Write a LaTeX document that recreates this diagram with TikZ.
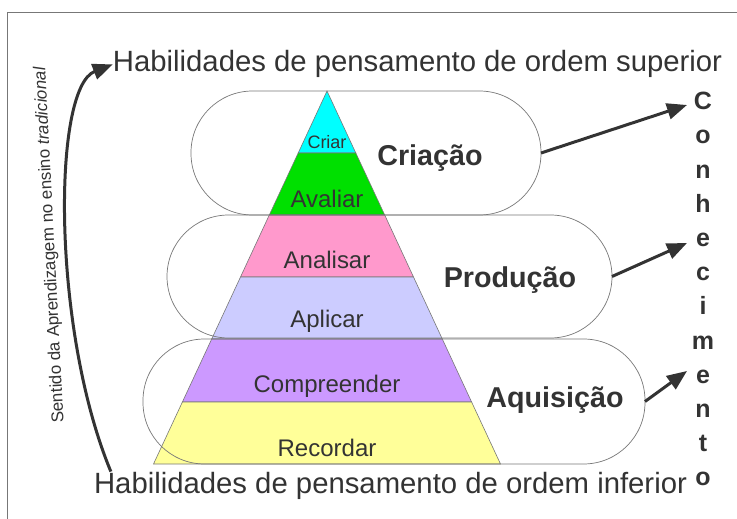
\documentclass[tikz,border=0pt]{standalone}
\usepackage{fontspec}
\setmainfont{Liberation Sans}
\usetikzlibrary{arrows.meta}

\definecolor{txtgray}{HTML}{333333}
\definecolor{linegray}{HTML}{777777}
\definecolor{cCriar}{HTML}{00FFFF}
\definecolor{cAvaliar}{HTML}{00E000}
\definecolor{cAnalisar}{HTML}{FF99CC}
\definecolor{cAplicar}{HTML}{CCCCFF}
\definecolor{cCompreender}{HTML}{CC99FF}
\definecolor{cRecordar}{HTML}{FFFF99}

\begin{document}
\begin{tikzpicture}[x=1pt, y=-1pt,
    camada/.style={draw=linegray, line width=0.6pt},
    nivel/.style={anchor=base, text=txtgray, inner sep=0pt, font=\fontsize{24}{28}\selectfont},
    fase/.style={draw=linegray, line width=0.7pt, rounded corners=61.5pt, outer sep=0pt, inner sep=0pt},
    fasetxt/.style={anchor=base, text=txtgray, inner sep=0pt, font=\bfseries\fontsize{28.7}{32}\selectfont},
    titulo/.style={anchor=base, text=txtgray, inner sep=0pt, font=\fontsize{29.3}{34}\selectfont},
    seta/.style={draw=txtgray, line width=3pt, -{Triangle[length=20pt,width=16pt]}}]
        \useasboundingbox (0,0) rectangle (737,519);
        \draw[linegray, line width=1pt] (7,519) -- (7,13) -- (737,13);

        % piramide
        \filldraw[camada, fill=cCriar] (327,91) -- (355.8,153) -- (298.2,153) -- cycle;
        \filldraw[camada, fill=cAvaliar] (298.2,153) -- (355.8,153) -- (384.7,215) -- (269.3,215) -- cycle;
        \filldraw[camada, fill=cAnalisar] (269.3,215) -- (384.7,215) -- (413.5,277) -- (240.5,277) -- cycle;
        \filldraw[camada, fill=cAplicar] (240.5,277) -- (413.5,277) -- (442.3,339) -- (211.7,339) -- cycle;
        \filldraw[camada, fill=cCompreender] (211.7,339) -- (442.3,339) -- (471.6,402) -- (182.4,402) -- cycle;
        \filldraw[camada, fill=cRecordar] (182.4,402) -- (471.6,402) -- (500.5,464) -- (153.5,464) -- cycle;

        \node[nivel, font=\fontsize{18}{20}\selectfont] (criar) at (327,148) {Criar};
        \node[nivel] (avaliar) at (327,207) {Avaliar};
        \node[nivel] (analisar) at (327,268) {Analisar};
        \node[nivel] (aplicar) at (327,327) {Aplicar};
        \node[nivel] (compreender) at (327,392) {Compreender};
        \node[nivel] (recordar) at (327,456) {Recordar};

        % fases
        \node[fase, minimum width=350pt, minimum height=124pt] (criacao) at (366,153) {};
        \node[fase, minimum width=445pt, minimum height=123pt] (producao) at (389.5,276.5) {};
        \node[fase, minimum width=502pt, minimum height=125pt] (aquisicao) at (394,401.5) {};
        \node[fasetxt] (lcriacao) at (430,165) {Criação};
        \node[fasetxt] (lproducao) at (510,287) {Produção};
        \node[fasetxt] (laquisicao) at (555,407) {Aquisição};

        \node[titulo] (superior) at (417.5,72) {Habilidades de pensamento de ordem superior};
        \node[titulo] (inferior) at (390.5,493) {Habilidades de pensamento de ordem inferior};

        \node[anchor=north, inner sep=0pt, align=center, text=txtgray, font=\bfseries\fontsize{25}{34.2}\selectfont] (conhecimento) at (703,92) {C\\o\\n\\h\\e\\c\\i\\m\\e\\n\\t\\o};
        \coordinate (kTopo) at (687,105);
        \coordinate (kMeio) at (687,243);
        \coordinate (kBase) at (687,371);

        \draw[seta] (criacao.east) -- (kTopo);
        \draw[seta] (producao.east) -- (kMeio);
        \draw[seta] (aquisicao.east) -- (kBase);

        \node[rotate=93, text=txtgray, inner sep=0pt, font=\fontsize{17}{20}\selectfont] (sentido) at (50,245) {Sentido da Aprendizagem no ensino \textit{tradicional}};
        \draw[seta] ([xshift=17pt]inferior.north west) .. controls (52,330) and (52,88) .. (superior.west);
    \end{tikzpicture}
\end{document}
